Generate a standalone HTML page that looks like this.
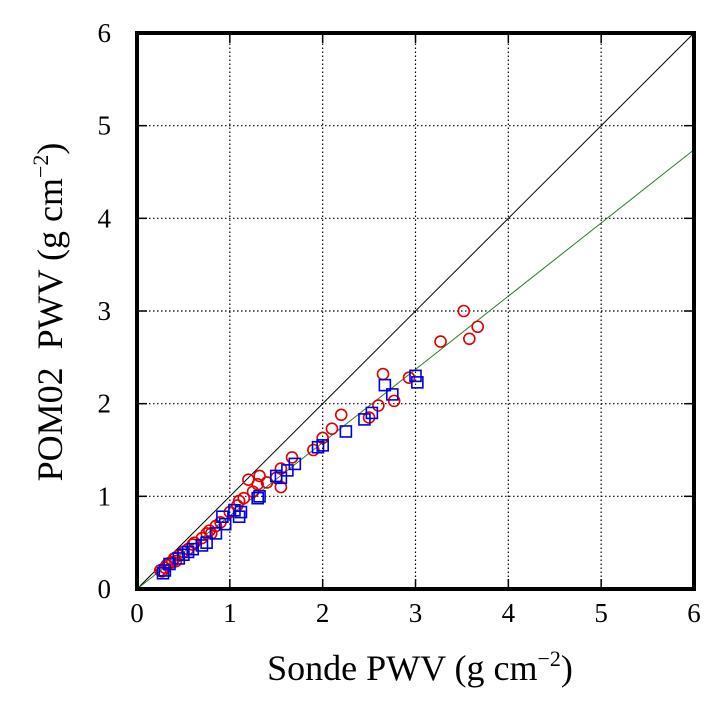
<!DOCTYPE html>
<html><head><meta charset="utf-8"><style>
body{margin:0;background:#fff;}
svg text{font-family:"Liberation Serif",serif;fill:#000;}
</style></head><body>
<svg id="chart" width="719" height="704" viewBox="0 0 719 704" xmlns="http://www.w3.org/2000/svg">
<g id="grid"></g>
<g id="lines"></g>
<g id="marks"></g>
<g id="axes"></g>
<text x="420" y="680" font-size="36" text-anchor="middle">Sonde PWV (g cm<tspan font-size="22" dy="-14">−2</tspan><tspan dy="14">)</tspan></text>
<text transform="translate(62,312) rotate(-90)" font-size="36" text-anchor="middle">POM02&#160;&#160;PWV (g cm<tspan font-size="22" dy="-14">−2</tspan><tspan dy="14">)</tspan></text>
</svg>
<script>
const xTicks=[0,1,2,3,4,5,6];
const yTicks=[0,1,2,3,4,5,6];
const redX=[3.52,3.67,3.58,3.27,2.93,2.65,2.77,2.6,2.5,2.2,2.1,2.0,1.9,1.67,1.55,1.55,1.5,1.4,1.32,1.3,1.2,1.15,1.08,1.0,0.9,0.85,0.78,0.75,0.7,0.6,0.55,0.5,0.45,0.4,0.35,0.3,0.25,0.32,0.42,0.62,0.8,1.1,1.25,0.27,0.38];
const redY=[3.0,2.83,2.7,2.67,2.28,2.32,2.03,1.98,1.85,1.88,1.73,1.63,1.5,1.42,1.1,1.3,1.2,1.15,1.22,1.13,1.18,0.98,0.9,0.83,0.72,0.68,0.63,0.6,0.55,0.48,0.43,0.4,0.36,0.33,0.28,0.23,0.2,0.26,0.3,0.5,0.6,0.95,1.05,0.19,0.29];
const blueX=[3.0,3.02,2.67,2.75,2.53,2.45,2.25,2.0,1.95,1.7,1.62,1.55,1.5,1.32,1.3,1.12,1.1,1.05,0.95,0.92,0.85,0.75,0.7,0.6,0.55,0.5,0.45,0.35,0.28,0.3];
const blueY=[2.3,2.23,2.2,2.1,1.9,1.83,1.7,1.55,1.53,1.35,1.28,1.2,1.22,1.0,0.98,0.83,0.78,0.85,0.7,0.78,0.6,0.5,0.47,0.43,0.4,0.37,0.33,0.27,0.17,0.2];
const fitSlope=[0.79];
const X0=137,X1=694,Y0=589,Y1=33;
function sx(v){return X0+(X1-X0)*v/6;}
function sy(v){return Y0-(Y0-Y1)*v/6;}
const NS="http://www.w3.org/2000/svg";
function mk(tag,attrs,parent){const e=document.createElementNS(NS,tag);for(const k in attrs)e.setAttribute(k,attrs[k]);parent.appendChild(e);return e;}
const grid=document.getElementById('grid'),axes=document.getElementById('axes'),lines=document.getElementById('lines'),marks=document.getElementById('marks');
xTicks.forEach(t=>{
  if(t>0&&t<6){const g=mk('line',{x1:sx(t),x2:sx(t),y1:Y0,y2:Y1,stroke:'#000','stroke-width':1.2,'stroke-dasharray':'1.5,2.5'},grid);
  
  const tk=mk('line',{x1:sx(t),x2:sx(t),y1:Y0,y2:Y0-10,stroke:'#000','stroke-width':1.5},axes);
  
  const tk2=mk('line',{x1:sx(t),x2:sx(t),y1:Y1,y2:Y1+10,stroke:'#000','stroke-width':1.5},axes);
  }
  const l=mk('text',{x:sx(t),y:Y0+33,'font-size':27,'text-anchor':'middle'},axes);l.textContent=t;
  
});
yTicks.forEach(t=>{
  if(t>0&&t<6){const g=mk('line',{x1:X0,x2:X1,y1:sy(t),y2:sy(t),stroke:'#000','stroke-width':1.2,'stroke-dasharray':'1.5,2.5'},grid);
  
  const tk=mk('line',{x1:X0,x2:X0+10,y1:sy(t),y2:sy(t),stroke:'#000','stroke-width':1.5},axes);
  
  const tk2=mk('line',{x1:X1,x2:X1-10,y1:sy(t),y2:sy(t),stroke:'#000','stroke-width':1.5},axes);
  }
  const l=mk('text',{x:111,y:sy(t)+9,'font-size':27,'text-anchor':'end'},axes);l.textContent=t;
  
});
const frame=mk('rect',{x:X0,y:Y1,width:X1-X0,height:Y0-Y1,fill:'none',stroke:'#000','stroke-width':4},axes);

const one=mk('line',{x1:sx(0),y1:sy(0),x2:sx(6),y2:sy(6),stroke:'#000','stroke-width':1},lines);

const fit=mk('line',{x1:sx(0),y1:sy(0),x2:sx(6),y2:sy(6*fitSlope[0]),stroke:'#2a7a2a','stroke-width':1},lines);

redX.forEach((v,i)=>{const c=mk('circle',{cx:sx(v),cy:sy(redY[i]),r:5.5,fill:'none',stroke:'#e00000','stroke-width':1.6},marks);
  });
blueX.forEach((v,i)=>{const r=mk('rect',{x:sx(v)-5.5,y:sy(blueY[i])-5.5,width:11,height:11,fill:'none',stroke:'#0000dd','stroke-width':1.6},marks);
  });
</script>
</body></html>
